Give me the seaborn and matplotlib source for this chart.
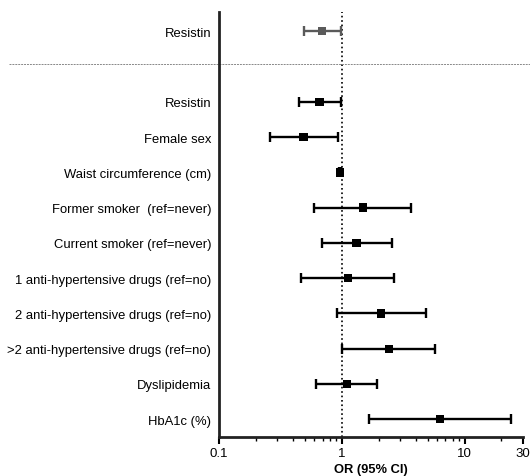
import matplotlib
matplotlib.use("Agg")
import matplotlib.pyplot as plt
import seaborn as sns
import pandas as pd
import numpy as np
from matplotlib.ticker import FixedLocator, NullFormatter, LogLocator

labels = ["Resistin", "", "Resistin", "Female sex", "Waist circumference (cm)",
          "Former smoker  (ref=never)", "Current smoker (ref=never)",
          "1 anti-hypertensive drugs (ref=no)", "2 anti-hypertensive drugs (ref=no)",
          ">2 anti-hypertensive drugs (ref=no)", "Dyslipidemia", "HbA1c (%)"]
odds = [0.69, None, 0.66, 0.49, 0.97, 1.49, 1.32, 1.13, 2.10, 2.42, 1.10, 6.35]
lower = [0.49, None, 0.45, 0.26, 0.95, 0.60, 0.69, 0.47, 0.92, 1.01, 0.62, 1.68]
upper = [0.98, None, 0.98, 0.93, 0.99, 3.64, 2.56, 2.65, 4.85, 5.78, 1.95, 24.0]
group = ["univariate", None] + ["adjusted"] * 10
xticks = [0.1, 1, 10, 30]
xticklabels = ["0.1", "1", "10", "30"]

sns.set_theme(style="white")
plt.rcParams["font.family"] = ["Liberation Sans", "DejaVu Sans"]
plt.rcParams["text.color"] = "black"
plt.rcParams["axes.labelcolor"] = "black"
plt.rcParams["xtick.color"] = "black"
plt.rcParams["ytick.color"] = "black"

df = pd.DataFrame({"label": labels, "OR": odds, "lo": lower, "hi": upper, "group": group})
df["pos"] = np.arange(len(df))
d = df.dropna().copy()

fig = plt.figure(figsize=(5.30, 4.77), dpi=100)
ax = fig.add_axes([0.413, 0.082, 0.574, 0.891])

colors = {"univariate": "#5a5a5a", "adjusted": "#000000"}
for g, sub in d.groupby("group"):
    ax.errorbar(sub["OR"], sub["pos"],
                xerr=[sub["OR"] - sub["lo"], sub["hi"] - sub["OR"]],
                fmt="none", ecolor=colors[g], elinewidth=1.7, capsize=3.3, capthick=1.7, zorder=3)
sns.scatterplot(data=d, x="OR", y="pos", hue="group", palette=colors, marker="s", s=36,
                edgecolor="none", legend=False, ax=ax, zorder=4)

ax.axvline(1, color="black", linestyle=":", linewidth=1.2, zorder=2)
ax.axhline(0.93, xmin=-0.69, xmax=1.03, color="#888888", linestyle=(0, (2, 1)), linewidth=0.7, clip_on=False)

ax.set_xscale("log")
ax.set_xlim(0.1, 30)
ax.set_ylim(len(df) - 0.5, -0.55)
ax.xaxis.set_major_locator(FixedLocator(xticks))
ax.set_xticklabels(xticklabels, fontsize=9.5)
ax.xaxis.set_minor_locator(LogLocator(base=10, subs=np.arange(2, 10)))
ax.xaxis.set_minor_formatter(NullFormatter())
ax.tick_params(axis="x", which="major", direction="out", length=5, width=1.5, bottom=True, pad=2)
ax.tick_params(axis="x", which="minor", direction="out", length=3, width=1, bottom=True)

ax.set_yticks(df["pos"])
ax.set_yticklabels(df["label"], fontsize=9.4)
ax.tick_params(axis="y", length=0, pad=5.5)

ax.set_xlabel("OR (95% CI)", fontsize=9.3, fontweight="bold", labelpad=3)
ax.set_ylabel("")
for s in ["top", "right"]:
    ax.spines[s].set_visible(False)
for s in ["left", "bottom"]:
    ax.spines[s].set_color("#222222")
    ax.spines[s].set_linewidth(2)

fig.savefig("out.png", dpi=100)
